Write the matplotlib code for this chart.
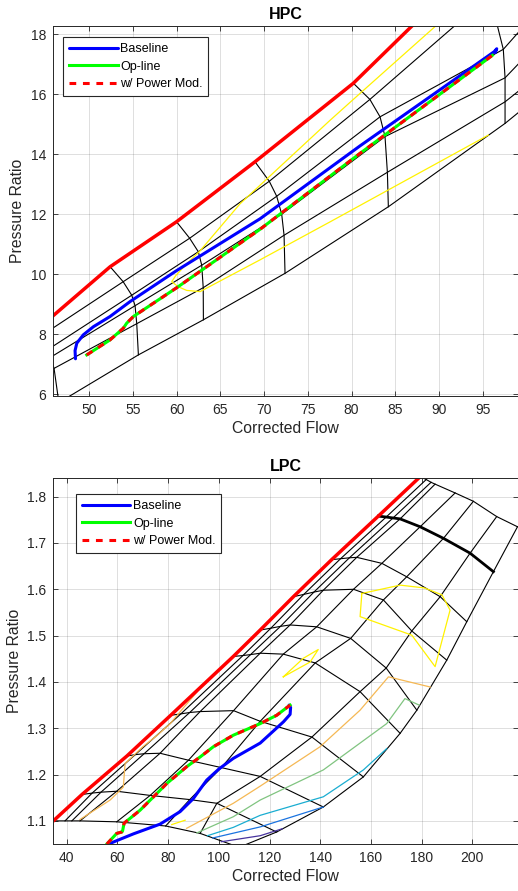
import numpy as np
import matplotlib
matplotlib.use('Agg')
import matplotlib.pyplot as plt

plt.rcParams['font.family'] = ['Liberation Sans', 'DejaVu Sans']

# ---------------- HPC map (rows = speed lines, cols = surge, R1..R5) ----------------
hpc_w = np.array([
    [44.0, 44.6, 45.2, 45.6, 46.0, 46.55],
    [52.41, 53.9, 54.88, 55.26, 55.45, 55.64],
    [60.0, 61.5, 62.49, 62.88, 63.05, 63.07],
    [68.97, 70.6, 71.45, 72.02, 72.29, 72.4],
    [80.21, 82.1, 83.26, 83.83, 84.1, 84.21],
    [94.0, 95.8, 97.35, 97.55, 97.55, 97.55],
])
hpc_pr = np.array([
    [8.14, 7.96, 7.47, 7.23, 6.86, 5.72],
    [10.25, 9.75, 9.3, 8.95, 8.35, 7.31],
    [11.75, 11.2, 10.75, 10.3, 9.55, 8.48],
    [13.75, 13.1, 12.6, 12.0, 11.3, 10.03],
    [16.37, 15.83, 15.25, 14.59, 13.4, 12.25],
    [20.3, 19.3, 17.5, 16.55, 15.75, 15.03],
])
# R-line ends beyond the last visible speed line
hpc_ext_w = [101.0, 101.0, 101.0, 101.0, 101.0]
hpc_ext_pr = [20.5, 18.7, 17.6, 16.55, 15.85]

hpc_eff_w = [91.0, 89.74, 80.97, 77.57, 67.26, 62.69, 61.0, 59.9, 59.45,
             60.2, 61.17, 62.69, 69.55, 77.57, 95.64]
hpc_eff_pr = [18.65, 18.31, 16.03, 15.14, 12.35, 10.78, 10.3, 9.95, 9.75,
              9.58, 9.46, 9.42, 10.48, 11.75, 14.64]

hpc_base_w = [48.45, 48.4, 48.6, 49.35, 50.5, 52.4, 54.7, 60.0, 69.55, 80.97, 96.3, 96.6, 96.45]
hpc_base_pr = [7.18, 7.45, 7.7, 7.98, 8.25, 8.59, 9.09, 10.12, 11.85, 14.28, 17.42, 17.52, 17.4]

hpc_op_w = [49.74, 52.4, 53.92, 54.31, 55.07, 60.02, 69.55, 80.97, 96.1]
hpc_op_pr = [7.31, 7.81, 8.2, 8.37, 8.59, 9.55, 11.5, 14.03, 17.3]

# ---------------- LPC map (rows = speed lines, cols = surge, R1..R6, choke) ----------------
lpc_w = np.array([
    [34.7, 39.3, 42.0, 45.2, 59.7, 79.0, 92.6, 108.0],
    [46.0, 50.0, 53.5, 59.7, 72.9, 88.5, 99.2, 122.8],
    [63.7, 67.0, 70.5, 76.8, 88.0, 101.0, 116.3, 141.2],
    [81.0, 85.0, 88.5, 92.6, 105.8, 116.3, 136.7, 157.0],
    [105.7, 109.5, 112.5, 116.3, 125.4, 138.0, 155.7, 171.5],
    [116.3, 120.5, 124.3, 128.1, 138.6, 152.0, 166.0, 178.1],
    [129.4, 133.5, 137.5, 141.2, 153.1, 164.9, 176.1, 189.9],
    [144.5, 148.0, 151.5, 154.4, 164.3, 174.1, 187.3, 197.8],
    [162.9, 166.0, 168.7, 171.5, 179.4, 188.6, 199.1, 208.3],
    [179.4, 181.8, 183.7, 185.3, 193.2, 200.4, 209.6, 217.8],
])
lpc_pr = np.array([
    [1.100, 1.100, 1.100, 1.100, 1.098, 1.089, 1.073, 1.043],
    [1.157, 1.160, 1.162, 1.164, 1.155, 1.146, 1.138, 1.076],
    [1.240, 1.243, 1.245, 1.246, 1.231, 1.215, 1.196, 1.130],
    [1.328, 1.331, 1.334, 1.336, 1.338, 1.315, 1.281, 1.195],
    [1.455, 1.457, 1.459, 1.462, 1.460, 1.441, 1.379, 1.289],
    [1.512, 1.516, 1.520, 1.523, 1.519, 1.494, 1.430, 1.339],
    [1.584, 1.589, 1.594, 1.598, 1.600, 1.577, 1.510, 1.447],
    [1.664, 1.666, 1.668, 1.669, 1.656, 1.627, 1.584, 1.530],
    [1.758, 1.756, 1.754, 1.752, 1.735, 1.710, 1.678, 1.638],
    [1.843, 1.837, 1.831, 1.827, 1.808, 1.790, 1.757, 1.735],
])
lpc_thick_row = 8

# efficiency contours (parula colours)
lpc_yel1_w = [156.4, 171.5, 181.0, 188.0, 191.2, 185.3, 176.1, 155.7, 156.4]
lpc_yel1_pr = [1.591, 1.609, 1.603, 1.588, 1.555, 1.433, 1.501, 1.541, 1.591]
lpc_yel2_w = [125.4, 133.3, 139.2, 136.0, 125.4]
lpc_yel2_pr = [1.411, 1.451, 1.470, 1.443, 1.411]
lpc_yel3_w = [81.4, 86.7]
lpc_yel3_pr = [1.092, 1.1015]
lpc_or1_w = [45.2, 57.1, 62.3, 63.0, 70.0, 75.5, 80.8, 86.0, 91.3]
lpc_or1_pr = [1.103, 1.145, 1.173, 1.224, 1.26, 1.284, 1.31, 1.344, 1.378]
lpc_or2_w = [87.3, 105.7, 116.3, 139.9, 155.7, 166.9, 183.4]
lpc_or2_pr = [1.084, 1.138, 1.175, 1.26, 1.339, 1.411, 1.389]
lpc_gr_w = [91.3, 105.7, 116.3, 141.2, 166.2, 173.4, 179.0]
lpc_gr_pr = [1.074, 1.109, 1.145, 1.21, 1.31, 1.364, 1.35]
lpc_cy_w = [95.5, 105.7, 116.3, 141.2, 157.0, 166.2]
lpc_cy_pr = [1.068, 1.086, 1.112, 1.152, 1.21, 1.256]
lpc_bl_w = [97.5, 116.3, 141.2]
lpc_bl_pr = [1.063, 1.087, 1.13]
lpc_pu_w = [101.0, 116.3, 125.0]
lpc_pu_pr = [1.055, 1.068, 1.083]

lpc_base_w = [56.5, 60.0, 66.3, 76.8, 84.7, 89.9, 95.2, 100.0, 105.7, 116.3, 125.5, 128.1, 128.3, 127.7]
lpc_base_pr = [1.05, 1.058, 1.072, 1.093, 1.12, 1.148, 1.188, 1.212, 1.235, 1.268, 1.314, 1.33, 1.345, 1.35]

lpc_op_w = [55.8, 59.7, 61.7, 62.0, 62.6, 68.9, 75.5, 79.5, 87.3, 92.6, 97.8, 105.7, 116.3, 122.8, 128.1]
lpc_op_pr = [1.05, 1.073, 1.076, 1.078, 1.095, 1.123, 1.159, 1.181, 1.217, 1.238, 1.26, 1.285, 1.31, 1.328, 1.35]

GRAY = (0.15, 0.15, 0.15)


def style(ax, title, xlim, ylim, xticks, yticks):
    ax.set_xlim(*xlim)
    ax.set_ylim(*ylim)
    ax.set_xticks(xticks)
    ax.set_yticks(yticks)
    ax.grid(True, color=GRAY, alpha=0.15, lw=0.7)
    ax.set_axisbelow(True)
    ax.tick_params(direction='in', top=True, right=True, length=3.5, width=0.6,
                   labelsize=10, colors=GRAY, pad=5)
    for s in ax.spines.values():
        s.set_color(GRAY)
        s.set_linewidth(0.7)
    ax.set_title(title, fontsize=11.5, fontweight='bold', pad=5)
    ax.set_xlabel('Corrected Flow', fontsize=11.3, color=GRAY, labelpad=3)
    ax.set_ylabel('Pressure Ratio', fontsize=11.3, color=GRAY, labelpad=4)


def legend(ax, anchor):
    leg = ax.legend(loc='upper left', bbox_to_anchor=anchor, borderaxespad=0,
                    fontsize=9, fancybox=False, framealpha=1, edgecolor=GRAY,
                    handlelength=3.9, handletextpad=0.2, borderpad=0.45,
                    labelspacing=0.45)
    leg.get_frame().set_linewidth(0.8)


fig = plt.figure(figsize=(5.18, 8.91), dpi=100)

# ---- HPC ----
ax1 = fig.add_axes([0.103, 0.5556, 0.8965, 0.4156])
for i in range(len(hpc_w)):
    ax1.plot(hpc_w[i], hpc_pr[i], color='k', lw=0.8)
for j in range(1, hpc_w.shape[1]):
    ax1.plot(list(hpc_w[:, j]) + [hpc_ext_w[j - 1]],
             list(hpc_pr[:, j]) + [hpc_ext_pr[j - 1]], color='k', lw=0.8)
ax1.plot(hpc_eff_w, hpc_eff_pr, color=(1, 0.95, 0), lw=0.9)
ax1.plot(hpc_w[:, 0], hpc_pr[:, 0], color='r', lw=2.5)
ax1.plot(hpc_base_w, hpc_base_pr, color='b', lw=2.2, solid_capstyle='round', label='Baseline')
ax1.plot(hpc_op_w, hpc_op_pr, color=(0, 1, 0), lw=2.2, label='Op-line')
ax1.plot(hpc_op_w, hpc_op_pr, color='r', lw=2.2, ls=(0, (2.2, 2.2)), label='w/ Power Mod.')
style(ax1, 'HPC', (45.92, 99.0), (5.94, 18.29), np.arange(50, 100, 5), np.arange(6, 19, 2))
legend(ax1, (0.0215, 0.9687))

# ---- LPC ----
ax2 = fig.add_axes([0.103, 0.0527, 0.8965, 0.4112])
for i in range(len(lpc_w)):
    ax2.plot(lpc_w[i], lpc_pr[i], color='k', lw=2.0 if i == lpc_thick_row else 0.8)
for j in range(1, lpc_w.shape[1]):
    ax2.plot(lpc_w[:, j], lpc_pr[:, j], color='k', lw=0.8)
ax2.plot(lpc_pu_w, lpc_pu_pr, color=(0.28, 0.2, 0.62), lw=0.9)
ax2.plot(lpc_bl_w, lpc_bl_pr, color=(0.1, 0.45, 0.88), lw=0.9)
ax2.plot(lpc_cy_w, lpc_cy_pr, color=(0.1, 0.68, 0.82), lw=0.9)
ax2.plot(lpc_gr_w, lpc_gr_pr, color=(0.5, 0.77, 0.5), lw=0.9)
ax2.plot(lpc_or2_w, lpc_or2_pr, color=(0.96, 0.72, 0.33), lw=0.9)
ax2.plot(lpc_or1_w, lpc_or1_pr, color=(0.96, 0.72, 0.33), lw=0.9)
for w, p in [(lpc_yel1_w, lpc_yel1_pr), (lpc_yel2_w, lpc_yel2_pr), (lpc_yel3_w, lpc_yel3_pr)]:
    ax2.plot(w, p, color=(1, 0.95, 0), lw=0.9)
ax2.plot(lpc_w[:, 0], lpc_pr[:, 0], color='r', lw=2.5)
ax2.plot(lpc_base_w, lpc_base_pr, color='b', lw=2.2, solid_capstyle='round', label='Baseline')
ax2.plot(lpc_op_w, lpc_op_pr, color=(0, 1, 0), lw=2.2, label='Op-line')
ax2.plot(lpc_op_w, lpc_op_pr, color='r', lw=2.2, ls=(0, (2.2, 2.2)), label='w/ Power Mod.')
style(ax2, 'LPC', (34.7, 217.9), (1.05, 1.841), np.arange(40, 201, 20),
      np.round(np.arange(1.1, 1.81, 0.1), 1))
legend(ax2, (0.0489, 0.9547))

fig.savefig('out.png', dpi=100)
